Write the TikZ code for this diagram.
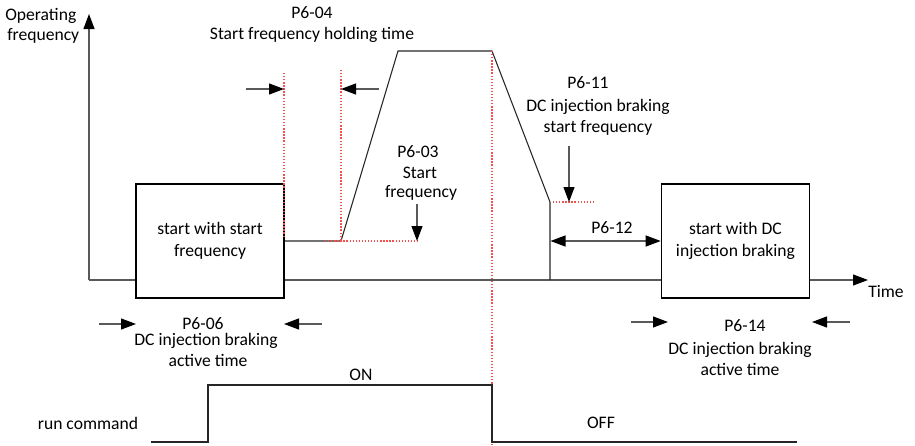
\documentclass[tikz,border=0pt]{standalone}
\usepackage{fontspec}
\setmainfont{Carlito}
\usetikzlibrary{arrows.meta}
\definecolor{dotred}{RGB}{245,80,80}
\begin{document}
\begin{tikzpicture}[x=0.75pt,y=-0.75pt,
  font=\fontsize{13.2}{13.6}\selectfont,
  axis/.style={draw=black!65,line width=0.9pt},
  curve/.style={draw=black!85,line width=0.8pt},
  blk/.style={draw=black,line width=1.2pt,minimum width=148*0.75pt,minimum height=114*0.75pt,align=center,inner sep=0pt},
  reddot/.style={draw=dotred,line width=0.9pt,dash pattern=on 1pt off 1.3pt},
  tip/.style={-{Triangle[length=15*0.75pt,width=11*0.75pt,color=black]}},
  dtip/.style={{Triangle[length=15*0.75pt,width=11*0.75pt,color=black]}-{Triangle[length=15*0.75pt,width=11*0.75pt,color=black]}},
  lbl/.style={align=center,inner sep=0pt}]
\useasboundingbox (0,0) rectangle (915,446);
% axes
\coordinate (O) at (89,280);
\coordinate (Ytop) at (89,14);
\coordinate (Xend) at (868,280);
\draw[axis,tip] (O) -- (Ytop);
\draw[axis,tip] (O) -- (Xend);
\node[lbl,anchor=west] (yl1) at (5,16) {Operating};
\node[lbl,anchor=west] (yl2) at (7,36) {frequency};
\node[lbl] (tl) at (886,292) {Time};
% boxes
\node[blk,fill=white] (b1) at (210,241) {start with start\\[3pt]frequency};
\node[blk,fill=white] (b2) at (735.5,241) {start with DC\\[3pt]injection braking};
% frequency curve
\coordinate (c1) at (341,241);
\coordinate (c2) at (398,51);
\coordinate (c3) at (492,51);
\coordinate (c4) at (550,202);
\coordinate (c5) at (550,280);
\draw[curve] (b1.east) -- (c1) -- (c2) -- (c3) -- (c4) -- (c5);
% red dotted guides
\draw[reddot] (284,73) -- (284,236);
\draw[reddot] (341,70) -- (c1);
\draw[reddot] (325,241) -- (419,241);
\draw[reddot] (c3) -- (492,446);
\draw[reddot] (553,202) -- (593,202);
% P6-04
\node[lbl] (p604) at (312,13) {P6-04};
\node[lbl] (p604t) at (312,35) {Start frequency holding time};
\coordinate (a1s) at (246,89); \coordinate (a1e) at (284,89);
\coordinate (a2s) at (379,89); \coordinate (a2e) at (341,89);
\draw[axis,tip] (a1s) -- (a1e);
\draw[axis,tip] (a2s) -- (a2e);
% P6-03
\node[lbl] (p603a) at (418,152) {P6-03};
\node[lbl] (p603b) at (420,173) {Start};
\node[lbl] (p603c) at (421,193) {frequency};
\coordinate (a3s) at (417,204); \coordinate (a3e) at (417,241);
\draw[axis,tip] (a3s) -- (a3e);
% P6-11
\node[lbl] (p611) at (588,83) {P6-11};
\node[lbl] (p611a) at (598,107) {DC injection braking};
\node[lbl] (p611b) at (598,128) {start frequency};
\coordinate (a4s) at (569,146); \coordinate (a4e) at (569,202);
\draw[axis,tip] (a4s) -- (a4e);
% P6-12
\coordinate (a5s) at (550.5,241);
\draw[axis,dtip] (a5s) -- (b2.west);
\node[lbl] (p612) at (612,228) {P6-12};
% P6-06
\node[lbl] (p606a) at (203,324) {P6-06};
\node[lbl] (p606b) at (206,341) {DC injection braking};
\node[lbl] (p606c) at (208,360) {active time};
\coordinate (a6s) at (99,324); \coordinate (a6e) at (136,324);
\coordinate (a7s) at (322,324); \coordinate (a7e) at (284,324);
\draw[axis,tip] (a6s) -- (a6e);
\draw[axis,tip] (a7s) -- (a7e);
% P6-14
\node[lbl] (p614) at (745,326) {P6-14};
\node[lbl] (p614a) at (740,350) {DC injection braking};
\node[lbl] (p614b) at (740,369) {active time};
\coordinate (a8s) at (631,322); \coordinate (a8e) at (668,322);
\coordinate (a9s) at (850,322); \coordinate (a9e) at (812,322);
\draw[axis,tip] (a8s) -- (a8e);
\draw[axis,tip] (a9s) -- (a9e);
% run command
\node[lbl] (rc) at (88,423) {run command};
\draw[curve] (151,442) -- (208,442) -- (208,385) -- (492,385) -- (492,442) -- (797,442);
\node[lbl] (on) at (361,375) {ON};
\node[lbl] (off) at (601,423) {OFF};
\end{tikzpicture}
\end{document}
